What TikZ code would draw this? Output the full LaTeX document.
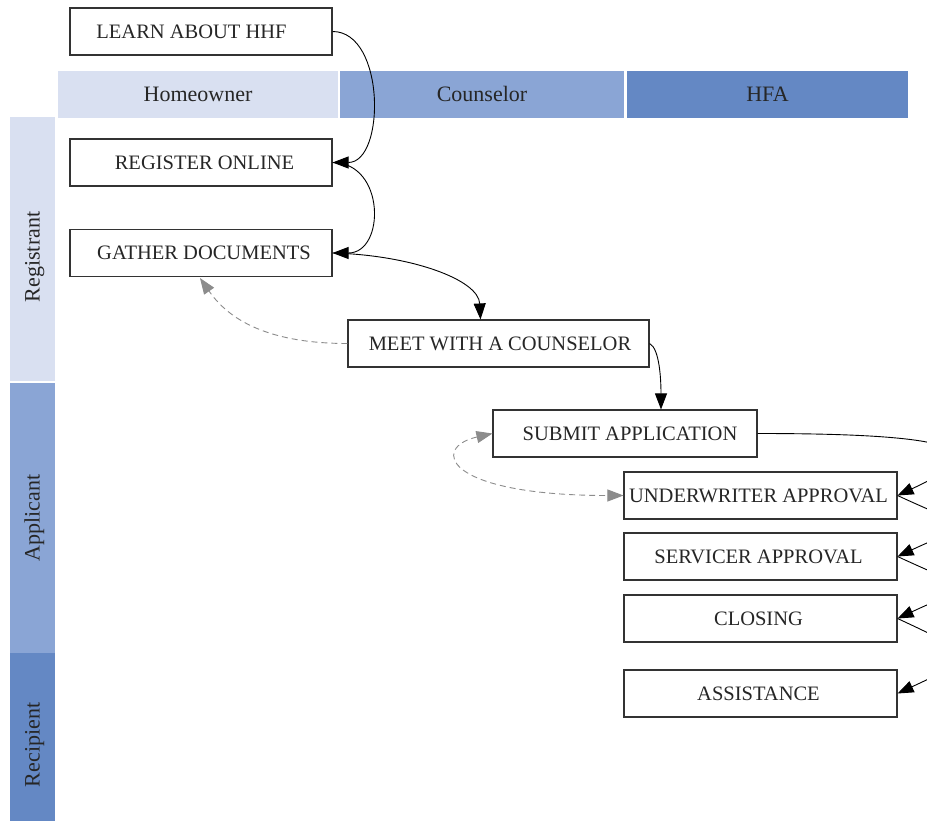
\documentclass[tikz,border=0pt]{standalone}
\usepackage{fontspec}
\setmainfont{Liberation Serif}
\usetikzlibrary{arrows.meta}
\definecolor{bandA}{HTML}{D9E0F1}
\definecolor{bandB}{HTML}{8AA5D5}
\definecolor{bandC}{HTML}{6488C4}
\definecolor{ink}{HTML}{262626}
\begin{document}
\begin{tikzpicture}[x=1pt,y=-1pt,
  stepbox/.style={draw=black!80, line width=1.1pt, fill=white, minimum width=262pt,
    minimum height=47pt, inner sep=0pt, text height=14pt, text depth=0pt,
    font=\fontsize{20.5}{24}\selectfont, text=ink},
  band/.style={inner sep=0pt, text height=14pt, text depth=0pt,
    font=\fontsize{22}{26}\selectfont, text=ink},
  flow/.style={draw=black, line width=0.9pt, -{Triangle[length=16pt,width=12pt]}},
  back/.style={draw=black!45, dash pattern=on 6pt off 4pt, line width=0.9pt,
    -{Triangle[length=16pt,width=12pt]}},
  backboth/.style={draw=black!45, dash pattern=on 6pt off 4pt, line width=0.9pt,
    {Triangle[length=16pt,width=12pt]}-{Triangle[length=16pt,width=12pt]}}]
\useasboundingbox (0,0) rectangle (927,821);
\clip (0,0) rectangle (927,821);
\fill[white] (0,0) rectangle (927,821);

% column headers
\node[band, fill=bandA, minimum width=280pt, minimum height=47pt] (hHome) at (198,94.5) {Homeowner};
\node[band, fill=bandB, minimum width=284pt, minimum height=47pt] (hCoun) at (482,94.5) {Counselor};
\node[band, fill=bandC, minimum width=281pt, minimum height=47pt] (hHfa) at (767.5,94.5) {HFA};

% row bands
\node[band, fill=bandA, minimum width=264pt, minimum height=45pt, rotate=90] (rReg) at (32.5,249) {Registrant\hspace*{16pt}};
\node[band, fill=bandB, minimum width=270pt, minimum height=45pt, rotate=90] (rApp) at (32.5,518) {Applicant};
\node[band, fill=bandC, minimum width=170pt, minimum height=45pt, rotate=90] (rRec) at (32.5,738) {Recipient\hspace*{14pt}};

% steps
\node[stepbox] (learn) at (201,31.5) {LEARN ABOUT HHF\hspace*{19pt}};
\node[stepbox] (reg) at (201,162.5) {\hspace*{7pt}REGISTER ONLINE};
\node[stepbox] (gather) at (201,253) {\hspace*{6pt}GATHER DOCUMENTS};
\node[stepbox, minimum width=301pt] (meet) at (498.5,343.5) {\hspace*{3pt}MEET WITH A COUNSELOR};
\node[stepbox, minimum width=264pt] (submit) at (625,433.5) {\hspace*{10pt}SUBMIT APPLICATION};
\node[stepbox, minimum width=273pt] (under) at (760.5,495.5) {UNDERWRITER APPROVAL\hspace*{4pt}};
\node[stepbox, minimum width=273pt] (serv) at (760.5,556.5) {SERVICER APPROVAL\hspace*{4pt}};
\node[stepbox, minimum width=273pt] (closing) at (760.5,618.5) {CLOSING\hspace*{4pt}};
\node[stepbox, minimum width=273pt] (assist) at (760.5,693.5) {ASSISTANCE\hspace*{4pt}};

% connectors
\draw[flow] (learn.east) .. controls +(53,0) and +(53,0) .. (reg.east);
\draw[flow] (reg.east) .. controls +(53,0) and +(53,0) .. (gather.east);
\draw[flow] (gather.east) .. controls +(78,2) and +(-2,-40) .. ([xshift=-18pt]meet.north);
\draw[flow] (meet.east) .. controls +(10,5) and +(0,-30) .. ([xshift=36pt]submit.north);
\draw[back] (meet.west) .. controls +(-88,0) and +(25,36) .. ([xshift=-1pt,yshift=-1pt]gather.south);
\draw[backboth] (submit.west) .. controls +(-62,14) and +(-180,0) .. (under.west);
\draw[flow] (submit.east) .. controls +(223,0) and +(25:100pt) .. (under.east);
\draw[flow] (under.east) .. controls +(-25:85pt) and +(25:85pt) .. (serv.east);
\draw[flow] (serv.east) .. controls +(-25:85pt) and +(25:85pt) .. (closing.east);
\draw[flow] (closing.east) .. controls +(-25:88pt) and +(25:88pt) .. (assist.east);
\end{tikzpicture}
\end{document}
